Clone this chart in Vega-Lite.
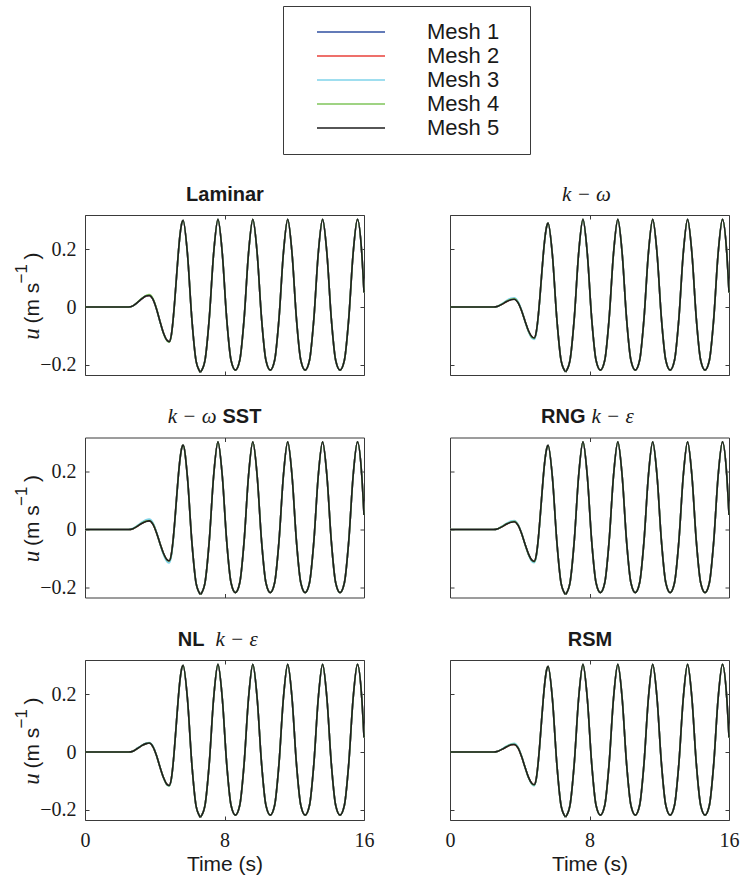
{
  "$schema": "https://vega.github.io/schema/vega-lite/v6.json",
  "padding": {"left": 12, "top": 5, "right": 5, "bottom": 5},
  "datasets": {
    "laminar": [
      {"t":0,"m1":0,"m2":0,"m3":0,"m4":0,"m5":0},
      {"t":2,"m1":0,"m2":0,"m3":0,"m4":0,"m5":0},
      {"t":2.5,"m1":0,"m2":0,"m3":0,"m4":0,"m5":0},
      {"t":2.75,"m1":0.004,"m2":0.004,"m3":0.004,"m4":0.004,"m5":0.004},
      {"t":3,"m1":0.015,"m2":0.015,"m3":0.015,"m4":0.016,"m5":0.015},
      {"t":3.25,"m1":0.028,"m2":0.028,"m3":0.029,"m4":0.030,"m5":0.028},
      {"t":3.5,"m1":0.038,"m2":0.038,"m3":0.039,"m4":0.040,"m5":0.038},
      {"t":3.68,"m1":0.040,"m2":0.040,"m3":0.041,"m4":0.043,"m5":0.040},
      {"t":3.9,"m1":0.026,"m2":0.026,"m3":0.027,"m4":0.029,"m5":0.026},
      {"t":4.1,"m1":-0.007,"m2":-0.007,"m3":-0.007,"m4":-0.005,"m5":-0.007},
      {"t":4.3,"m1":-0.050,"m2":-0.050,"m3":-0.051,"m4":-0.050,"m5":-0.050},
      {"t":4.5,"m1":-0.090,"m2":-0.090,"m3":-0.091,"m4":-0.091,"m5":-0.090},
      {"t":4.7,"m1":-0.115,"m2":-0.115,"m3":-0.116,"m4":-0.117,"m5":-0.115},
      {"t":4.83,"m1":-0.120,"m2":-0.120,"m3":-0.121,"m4":-0.122,"m5":-0.120},
      {"t":4.95,"m1":-0.097,"m2":-0.097,"m3":-0.098,"m4":-0.099,"m5":-0.097},
      {"t":5.05,"m1":-0.046,"m2":-0.046,"m3":-0.047,"m4":-0.047,"m5":-0.046},
      {"t":5.15,"m1":0.025,"m2":0.025,"m3":0.025,"m4":0.025,"m5":0.025},
      {"t":5.25,"m1":0.106,"m2":0.106,"m3":0.106,"m4":0.106,"m5":0.106},
      {"t":5.35,"m1":0.185,"m2":0.185,"m3":0.185,"m4":0.185,"m5":0.185},
      {"t":5.45,"m1":0.250,"m2":0.250,"m3":0.250,"m4":0.250,"m5":0.250},
      {"t":5.55,"m1":0.290,"m2":0.290,"m3":0.290,"m4":0.290,"m5":0.290},
      {"t":5.625,"m1":0.300,"m2":0.300,"m3":0.300,"m4":0.300,"m5":0.300},
      {"t":5.875,"m1":0.184,"m2":0.184,"m3":0.184,"m4":0.184,"m5":0.184},
      {"t":6.125,"m1":-0.040,"m2":-0.040,"m3":-0.040,"m4":-0.040,"m5":-0.040},
      {"t":6.375,"m1":-0.188,"m2":-0.188,"m3":-0.188,"m4":-0.188,"m5":-0.188},
      {"t":6.625,"m1":-0.226,"m2":-0.226,"m3":-0.226,"m4":-0.226,"m5":-0.226}
    ],
    "komega": [
      {"t":0,"m1":0,"m2":0,"m3":0,"m4":0,"m5":0},
      {"t":2,"m1":0,"m2":0,"m3":0,"m4":0,"m5":0},
      {"t":2.5,"m1":0,"m2":0,"m3":0,"m4":0,"m5":0},
      {"t":2.75,"m1":0.003,"m2":0.003,"m3":0.003,"m4":0.003,"m5":0.003},
      {"t":3,"m1":0.011,"m2":0.010,"m3":0.012,"m4":0.011,"m5":0.010},
      {"t":3.25,"m1":0.020,"m2":0.019,"m3":0.023,"m4":0.020,"m5":0.019},
      {"t":3.5,"m1":0.027,"m2":0.026,"m3":0.030,"m4":0.027,"m5":0.025},
      {"t":3.68,"m1":0.029,"m2":0.028,"m3":0.032,"m4":0.028,"m5":0.027},
      {"t":3.9,"m1":0.017,"m2":0.016,"m3":0.019,"m4":0.016,"m5":0.015},
      {"t":4.1,"m1":-0.011,"m2":-0.012,"m3":-0.010,"m4":-0.012,"m5":-0.012},
      {"t":4.3,"m1":-0.048,"m2":-0.048,"m3":-0.049,"m4":-0.048,"m5":-0.048},
      {"t":4.5,"m1":-0.083,"m2":-0.083,"m3":-0.085,"m4":-0.083,"m5":-0.082},
      {"t":4.7,"m1":-0.105,"m2":-0.104,"m3":-0.108,"m4":-0.105,"m5":-0.103},
      {"t":4.83,"m1":-0.109,"m2":-0.108,"m3":-0.112,"m4":-0.108,"m5":-0.107},
      {"t":4.95,"m1":-0.087,"m2":-0.086,"m3":-0.090,"m4":-0.086,"m5":-0.085},
      {"t":5.05,"m1":-0.039,"m2":-0.038,"m3":-0.041,"m4":-0.038,"m5":-0.037},
      {"t":5.15,"m1":0.029,"m2":0.029,"m3":0.027,"m4":0.029,"m5":0.030},
      {"t":5.25,"m1":0.106,"m2":0.106,"m3":0.105,"m4":0.106,"m5":0.107},
      {"t":5.35,"m1":0.181,"m2":0.181,"m3":0.180,"m4":0.181,"m5":0.182},
      {"t":5.45,"m1":0.242,"m2":0.242,"m3":0.242,"m4":0.242,"m5":0.242},
      {"t":5.55,"m1":0.280,"m2":0.280,"m3":0.280,"m4":0.280,"m5":0.280},
      {"t":5.625,"m1":0.290,"m2":0.290,"m3":0.290,"m4":0.290,"m5":0.290},
      {"t":5.875,"m1":0.178,"m2":0.178,"m3":0.178,"m4":0.178,"m5":0.178},
      {"t":6.125,"m1":-0.040,"m2":-0.040,"m3":-0.040,"m4":-0.040,"m5":-0.040},
      {"t":6.375,"m1":-0.186,"m2":-0.186,"m3":-0.186,"m4":-0.186,"m5":-0.186},
      {"t":6.625,"m1":-0.224,"m2":-0.224,"m3":-0.224,"m4":-0.224,"m5":-0.224}
    ],
    "sst": [
      {"t":0,"m1":0,"m2":0,"m3":0,"m4":0,"m5":0},
      {"t":2,"m1":0,"m2":0,"m3":0,"m4":0,"m5":0},
      {"t":2.5,"m1":0,"m2":0,"m3":0,"m4":0,"m5":0},
      {"t":2.75,"m1":0.003,"m2":0.003,"m3":0.004,"m4":0.003,"m5":0.003},
      {"t":3,"m1":0.012,"m2":0.011,"m3":0.014,"m4":0.012,"m5":0.011},
      {"t":3.25,"m1":0.022,"m2":0.021,"m3":0.025,"m4":0.022,"m5":0.021},
      {"t":3.5,"m1":0.030,"m2":0.029,"m3":0.034,"m4":0.029,"m5":0.028},
      {"t":3.68,"m1":0.032,"m2":0.031,"m3":0.036,"m4":0.031,"m5":0.030},
      {"t":3.9,"m1":0.020,"m2":0.019,"m3":0.023,"m4":0.019,"m5":0.018},
      {"t":4.1,"m1":-0.010,"m2":-0.011,"m3":-0.009,"m4":-0.011,"m5":-0.011},
      {"t":4.3,"m1":-0.048,"m2":-0.048,"m3":-0.049,"m4":-0.048,"m5":-0.048},
      {"t":4.5,"m1":-0.083,"m2":-0.083,"m3":-0.087,"m4":-0.083,"m5":-0.082},
      {"t":4.7,"m1":-0.106,"m2":-0.105,"m3":-0.111,"m4":-0.105,"m5":-0.104},
      {"t":4.83,"m1":-0.110,"m2":-0.109,"m3":-0.116,"m4":-0.109,"m5":-0.108},
      {"t":4.95,"m1":-0.088,"m2":-0.087,"m3":-0.094,"m4":-0.087,"m5":-0.086},
      {"t":5.05,"m1":-0.040,"m2":-0.039,"m3":-0.044,"m4":-0.039,"m5":-0.038},
      {"t":5.15,"m1":0.029,"m2":0.029,"m3":0.025,"m4":0.029,"m5":0.030},
      {"t":5.25,"m1":0.107,"m2":0.107,"m3":0.104,"m4":0.107,"m5":0.108},
      {"t":5.35,"m1":0.183,"m2":0.183,"m3":0.181,"m4":0.183,"m5":0.183},
      {"t":5.45,"m1":0.244,"m2":0.244,"m3":0.244,"m4":0.244,"m5":0.244},
      {"t":5.55,"m1":0.282,"m2":0.282,"m3":0.282,"m4":0.282,"m5":0.282},
      {"t":5.625,"m1":0.292,"m2":0.292,"m3":0.292,"m4":0.292,"m5":0.292},
      {"t":5.875,"m1":0.180,"m2":0.180,"m3":0.180,"m4":0.180,"m5":0.180},
      {"t":6.125,"m1":-0.040,"m2":-0.040,"m3":-0.040,"m4":-0.040,"m5":-0.040},
      {"t":6.375,"m1":-0.187,"m2":-0.187,"m3":-0.187,"m4":-0.187,"m5":-0.187},
      {"t":6.625,"m1":-0.225,"m2":-0.225,"m3":-0.225,"m4":-0.225,"m5":-0.225}
    ],
    "rng": [
      {"t":0,"m1":0,"m2":0,"m3":0,"m4":0,"m5":0},
      {"t":2,"m1":0,"m2":0,"m3":0,"m4":0,"m5":0},
      {"t":2.5,"m1":0,"m2":0,"m3":0,"m4":0,"m5":0},
      {"t":2.75,"m1":0.003,"m2":0.003,"m3":0.003,"m4":0.003,"m5":0.003},
      {"t":3,"m1":0.011,"m2":0.010,"m3":0.012,"m4":0.011,"m5":0.010},
      {"t":3.25,"m1":0.020,"m2":0.019,"m3":0.022,"m4":0.020,"m5":0.019},
      {"t":3.5,"m1":0.027,"m2":0.026,"m3":0.029,"m4":0.026,"m5":0.025},
      {"t":3.68,"m1":0.029,"m2":0.028,"m3":0.031,"m4":0.028,"m5":0.027},
      {"t":3.9,"m1":0.016,"m2":0.016,"m3":0.018,"m4":0.016,"m5":0.015},
      {"t":4.1,"m1":-0.012,"m2":-0.013,"m3":-0.012,"m4":-0.013,"m5":-0.013},
      {"t":4.3,"m1":-0.050,"m2":-0.050,"m3":-0.051,"m4":-0.050,"m5":-0.050},
      {"t":4.5,"m1":-0.085,"m2":-0.085,"m3":-0.087,"m4":-0.085,"m5":-0.084},
      {"t":4.7,"m1":-0.108,"m2":-0.107,"m3":-0.111,"m4":-0.107,"m5":-0.106},
      {"t":4.83,"m1":-0.112,"m2":-0.111,"m3":-0.115,"m4":-0.111,"m5":-0.110},
      {"t":4.95,"m1":-0.090,"m2":-0.089,"m3":-0.093,"m4":-0.089,"m5":-0.088},
      {"t":5.05,"m1":-0.042,"m2":-0.041,"m3":-0.044,"m4":-0.041,"m5":-0.040},
      {"t":5.15,"m1":0.028,"m2":0.028,"m3":0.025,"m4":0.028,"m5":0.029},
      {"t":5.25,"m1":0.106,"m2":0.106,"m3":0.104,"m4":0.106,"m5":0.106},
      {"t":5.35,"m1":0.182,"m2":0.182,"m3":0.180,"m4":0.182,"m5":0.182},
      {"t":5.45,"m1":0.243,"m2":0.243,"m3":0.243,"m4":0.243,"m5":0.243},
      {"t":5.55,"m1":0.281,"m2":0.281,"m3":0.281,"m4":0.281,"m5":0.281},
      {"t":5.625,"m1":0.291,"m2":0.291,"m3":0.291,"m4":0.291,"m5":0.291},
      {"t":5.875,"m1":0.179,"m2":0.179,"m3":0.179,"m4":0.179,"m5":0.179},
      {"t":6.125,"m1":-0.040,"m2":-0.040,"m3":-0.040,"m4":-0.040,"m5":-0.040},
      {"t":6.375,"m1":-0.187,"m2":-0.187,"m3":-0.187,"m4":-0.187,"m5":-0.187},
      {"t":6.625,"m1":-0.225,"m2":-0.225,"m3":-0.225,"m4":-0.225,"m5":-0.225}
    ],
    "nl": [
      {"t":0,"m1":0,"m2":0,"m3":0,"m4":0,"m5":0},
      {"t":2,"m1":0,"m2":0,"m3":0,"m4":0,"m5":0},
      {"t":2.5,"m1":0,"m2":0,"m3":0,"m4":0,"m5":0},
      {"t":2.75,"m1":0.003,"m2":0.003,"m3":0.003,"m4":0.003,"m5":0.003},
      {"t":3,"m1":0.012,"m2":0.012,"m3":0.013,"m4":0.012,"m5":0.012},
      {"t":3.25,"m1":0.022,"m2":0.022,"m3":0.023,"m4":0.022,"m5":0.022},
      {"t":3.5,"m1":0.029,"m2":0.029,"m3":0.031,"m4":0.029,"m5":0.029},
      {"t":3.68,"m1":0.031,"m2":0.031,"m3":0.033,"m4":0.031,"m5":0.031},
      {"t":3.9,"m1":0.018,"m2":0.018,"m3":0.020,"m4":0.018,"m5":0.018},
      {"t":4.1,"m1":-0.012,"m2":-0.012,"m3":-0.012,"m4":-0.012,"m5":-0.012},
      {"t":4.3,"m1":-0.052,"m2":-0.052,"m3":-0.052,"m4":-0.052,"m5":-0.052},
      {"t":4.5,"m1":-0.088,"m2":-0.088,"m3":-0.089,"m4":-0.088,"m5":-0.088},
      {"t":4.7,"m1":-0.112,"m2":-0.112,"m3":-0.114,"m4":-0.113,"m5":-0.112},
      {"t":4.83,"m1":-0.116,"m2":-0.116,"m3":-0.118,"m4":-0.117,"m5":-0.116},
      {"t":4.95,"m1":-0.093,"m2":-0.093,"m3":-0.095,"m4":-0.094,"m5":-0.093},
      {"t":5.05,"m1":-0.043,"m2":-0.043,"m3":-0.044,"m4":-0.043,"m5":-0.043},
      {"t":5.15,"m1":0.028,"m2":0.028,"m3":0.028,"m4":0.028,"m5":0.028},
      {"t":5.25,"m1":0.108,"m2":0.108,"m3":0.108,"m4":0.108,"m5":0.108},
      {"t":5.35,"m1":0.186,"m2":0.186,"m3":0.186,"m4":0.186,"m5":0.186},
      {"t":5.45,"m1":0.250,"m2":0.250,"m3":0.250,"m4":0.250,"m5":0.250},
      {"t":5.55,"m1":0.290,"m2":0.290,"m3":0.290,"m4":0.290,"m5":0.290},
      {"t":5.625,"m1":0.300,"m2":0.300,"m3":0.300,"m4":0.300,"m5":0.300},
      {"t":5.875,"m1":0.184,"m2":0.184,"m3":0.184,"m4":0.184,"m5":0.184},
      {"t":6.125,"m1":-0.040,"m2":-0.040,"m3":-0.040,"m4":-0.040,"m5":-0.040},
      {"t":6.375,"m1":-0.188,"m2":-0.188,"m3":-0.188,"m4":-0.188,"m5":-0.188},
      {"t":6.625,"m1":-0.226,"m2":-0.226,"m3":-0.226,"m4":-0.226,"m5":-0.226}
    ],
    "rsm": [
      {"t":0,"m1":0,"m2":0,"m3":0,"m4":0,"m5":0},
      {"t":2,"m1":0,"m2":0,"m3":0,"m4":0,"m5":0},
      {"t":2.5,"m1":0,"m2":0,"m3":0,"m4":0,"m5":0},
      {"t":2.75,"m1":0.003,"m2":0.003,"m3":0.003,"m4":0.003,"m5":0.003},
      {"t":3,"m1":0.010,"m2":0.010,"m3":0.011,"m4":0.010,"m5":0.010},
      {"t":3.25,"m1":0.019,"m2":0.018,"m3":0.021,"m4":0.019,"m5":0.018},
      {"t":3.5,"m1":0.026,"m2":0.025,"m3":0.028,"m4":0.026,"m5":0.025},
      {"t":3.68,"m1":0.027,"m2":0.026,"m3":0.030,"m4":0.027,"m5":0.026},
      {"t":3.9,"m1":0.015,"m2":0.014,"m3":0.018,"m4":0.015,"m5":0.014},
      {"t":4.1,"m1":-0.014,"m2":-0.015,"m3":-0.013,"m4":-0.014,"m5":-0.015},
      {"t":4.3,"m1":-0.052,"m2":-0.052,"m3":-0.052,"m4":-0.052,"m5":-0.052},
      {"t":4.5,"m1":-0.088,"m2":-0.087,"m3":-0.089,"m4":-0.088,"m5":-0.087},
      {"t":4.7,"m1":-0.110,"m2":-0.109,"m3":-0.112,"m4":-0.110,"m5":-0.109},
      {"t":4.83,"m1":-0.114,"m2":-0.113,"m3":-0.117,"m4":-0.114,"m5":-0.113},
      {"t":4.95,"m1":-0.092,"m2":-0.091,"m3":-0.094,"m4":-0.092,"m5":-0.091},
      {"t":5.05,"m1":-0.042,"m2":-0.041,"m3":-0.044,"m4":-0.042,"m5":-0.041},
      {"t":5.15,"m1":0.028,"m2":0.028,"m3":0.026,"m4":0.028,"m5":0.028},
      {"t":5.25,"m1":0.108,"m2":0.108,"m3":0.108,"m4":0.108,"m5":0.108},
      {"t":5.35,"m1":0.184,"m2":0.184,"m3":0.184,"m4":0.184,"m5":0.184},
      {"t":5.45,"m1":0.247,"m2":0.247,"m3":0.247,"m4":0.247,"m5":0.247},
      {"t":5.55,"m1":0.286,"m2":0.286,"m3":0.286,"m4":0.286,"m5":0.286},
      {"t":5.625,"m1":0.296,"m2":0.296,"m3":0.296,"m4":0.296,"m5":0.296},
      {"t":5.875,"m1":0.182,"m2":0.182,"m3":0.182,"m4":0.182,"m5":0.182},
      {"t":6.125,"m1":-0.040,"m2":-0.040,"m3":-0.040,"m4":-0.040,"m5":-0.040},
      {"t":6.375,"m1":-0.187,"m2":-0.187,"m3":-0.187,"m4":-0.187,"m5":-0.187},
      {"t":6.625,"m1":-0.225,"m2":-0.225,"m3":-0.225,"m4":-0.225,"m5":-0.225}
    ],
    "wave": [
      {"t":6.625,"m1":-0.225,"m2":-0.225,"m3":-0.225,"m4":-0.225,"m5":-0.225},
      {"t":6.875,"m1":-0.186,"m2":-0.186,"m3":-0.186,"m4":-0.186,"m5":-0.186},
      {"t":7.125,"m1":-0.040,"m2":-0.040,"m3":-0.040,"m4":-0.040,"m5":-0.040},
      {"t":7.375,"m1":0.184,"m2":0.184,"m3":0.184,"m4":0.184,"m5":0.184},
      {"t":7.625,"m1":0.303,"m2":0.303,"m3":0.303,"m4":0.303,"m5":0.303},
      {"t":7.875,"m1":0.184,"m2":0.184,"m3":0.184,"m4":0.184,"m5":0.184},
      {"t":8.125,"m1":-0.040,"m2":-0.040,"m3":-0.040,"m4":-0.040,"m5":-0.040},
      {"t":8.375,"m1":-0.184,"m2":-0.184,"m3":-0.184,"m4":-0.184,"m5":-0.184},
      {"t":8.625,"m1":-0.218,"m2":-0.218,"m3":-0.218,"m4":-0.218,"m5":-0.218},
      {"t":8.875,"m1":-0.184,"m2":-0.184,"m3":-0.184,"m4":-0.184,"m5":-0.184},
      {"t":9.125,"m1":-0.040,"m2":-0.040,"m3":-0.040,"m4":-0.040,"m5":-0.040},
      {"t":9.375,"m1":0.184,"m2":0.184,"m3":0.184,"m4":0.184,"m5":0.184},
      {"t":9.625,"m1":0.303,"m2":0.303,"m3":0.303,"m4":0.303,"m5":0.303},
      {"t":9.875,"m1":0.184,"m2":0.184,"m3":0.184,"m4":0.184,"m5":0.184},
      {"t":10.125,"m1":-0.040,"m2":-0.040,"m3":-0.040,"m4":-0.040,"m5":-0.040},
      {"t":10.375,"m1":-0.184,"m2":-0.184,"m3":-0.184,"m4":-0.184,"m5":-0.184},
      {"t":10.625,"m1":-0.218,"m2":-0.218,"m3":-0.218,"m4":-0.218,"m5":-0.218},
      {"t":10.875,"m1":-0.184,"m2":-0.184,"m3":-0.184,"m4":-0.184,"m5":-0.184},
      {"t":11.125,"m1":-0.040,"m2":-0.040,"m3":-0.040,"m4":-0.040,"m5":-0.040},
      {"t":11.375,"m1":0.184,"m2":0.184,"m3":0.184,"m4":0.184,"m5":0.184},
      {"t":11.625,"m1":0.303,"m2":0.303,"m3":0.303,"m4":0.303,"m5":0.303},
      {"t":11.875,"m1":0.184,"m2":0.184,"m3":0.184,"m4":0.184,"m5":0.184},
      {"t":12.125,"m1":-0.040,"m2":-0.040,"m3":-0.040,"m4":-0.040,"m5":-0.040},
      {"t":12.375,"m1":-0.184,"m2":-0.184,"m3":-0.184,"m4":-0.184,"m5":-0.184},
      {"t":12.625,"m1":-0.218,"m2":-0.218,"m3":-0.218,"m4":-0.218,"m5":-0.218},
      {"t":12.875,"m1":-0.184,"m2":-0.184,"m3":-0.184,"m4":-0.184,"m5":-0.184},
      {"t":13.125,"m1":-0.040,"m2":-0.040,"m3":-0.040,"m4":-0.040,"m5":-0.040},
      {"t":13.375,"m1":0.184,"m2":0.184,"m3":0.184,"m4":0.184,"m5":0.184},
      {"t":13.625,"m1":0.303,"m2":0.303,"m3":0.303,"m4":0.303,"m5":0.303},
      {"t":13.875,"m1":0.184,"m2":0.184,"m3":0.184,"m4":0.184,"m5":0.184},
      {"t":14.125,"m1":-0.040,"m2":-0.040,"m3":-0.040,"m4":-0.040,"m5":-0.040},
      {"t":14.375,"m1":-0.184,"m2":-0.184,"m3":-0.184,"m4":-0.184,"m5":-0.184},
      {"t":14.625,"m1":-0.218,"m2":-0.218,"m3":-0.218,"m4":-0.218,"m5":-0.218},
      {"t":14.875,"m1":-0.184,"m2":-0.184,"m3":-0.184,"m4":-0.184,"m5":-0.184},
      {"t":15.125,"m1":-0.040,"m2":-0.040,"m3":-0.040,"m4":-0.040,"m5":-0.040},
      {"t":15.375,"m1":0.184,"m2":0.184,"m3":0.184,"m4":0.184,"m5":0.184},
      {"t":15.625,"m1":0.303,"m2":0.303,"m3":0.303,"m4":0.303,"m5":0.303},
      {"t":15.875,"m1":0.184,"m2":0.184,"m3":0.184,"m4":0.184,"m5":0.184},
      {"t":16,"m1":0.050,"m2":0.050,"m3":0.050,"m4":0.050,"m5":0.050}
    ]
  },
  "concat": [
    {
      "width": 279, "height": 160,
      "layer": [
        {
          "data": {"name": "laminar"},
          "transform": [{"fold": ["m1","m2","m3","m4","m5"], "as": ["mesh","u"]}],
          "mark": "line",
          "encoding": {
            "x": {"field": "t", "type": "quantitative", "scale": {"domain": [0,16], "nice": false}, "axis": {"orient": "bottom", "values": [0,8,16], "labels": false, "title": null}},
            "y": {"field": "u", "type": "quantitative", "scale": {"domain": [-0.235,0.318], "nice": false, "zero": false}, "axis": {"orient": "left", "values": [-0.2,0,0.2], "format": ".1~f", "title": "(m s", "titleX": -46.5, "titleY": 108, "titleAlign": "left", "titleAngle": 270}},
            "color": {"field": "mesh", "type": "nominal", "legend": {"title": null, "orient": "none", "legendX": 198, "legendY": -209, "symbolType": "stroke", "symbolSize": 4624, "symbolStrokeWidth": 1.5, "symbolOffset": 19, "clipHeight": 24, "rowPadding": 0, "padding": 14, "strokeColor": "#3a3a3a", "fillColor": "white", "labelFont": "Liberation Sans", "labelFontSize": 22, "labelColor": "#1a1a1a", "labelOffset": 41, "labelLimit": 0, "labelExpr": "'Mesh ' + substring(datum.label, 1) + '\u2800'"}}
          }
        },
        {
          "data": {"name": "wave"},
          "transform": [{"fold": ["m1","m2","m3","m4","m5"], "as": ["mesh","u"]}],
          "mark": "line",
          "encoding": {
            "x": {"field": "t", "type": "quantitative", "axis": {"orient": "top", "values": [0,8,16], "labels": false, "title": "Laminar", "titleFontWeight": "bold", "titleFontSize": 20, "titleX": 139.5, "titleY": -15, "titleAlign": "center"}},
            "y": {"field": "u", "type": "quantitative", "axis": {"orient": "right", "values": [-0.2,0,0.2], "labels": false, "title": "−1", "titleFontSize": 17, "titleX": -337.5, "titleY": 68, "titleAlign": "left", "titleAngle": 270}},
            "color": {"field": "mesh", "type": "nominal"}
          }
        },
        {
          "data": {"name": "wave"},
          "mark": {"type": "line", "opacity": 0},
          "encoding": {
            "x": {"field": "t", "type": "quantitative", "axis": null},
            "y": {"field": "m5", "type": "quantitative", "axis": {"orient": "left", "ticks": false, "labels": false, "title": "u", "titleFont": "Liberation Serif", "titleFontStyle": "italic", "titleFontSize": 23, "titleX": -46.5, "titleY": 118.5, "titleAlign": "center", "titleAngle": 270}}
          }
        },
        {
          "data": {"name": "wave"},
          "mark": {"type": "line", "opacity": 0},
          "encoding": {
            "x": {"field": "t", "type": "quantitative", "axis": null},
            "y": {"field": "m5", "type": "quantitative", "axis": {"orient": "left", "ticks": false, "labels": false, "title": ")", "titleX": -46.5, "titleY": 44, "titleAlign": "left", "titleAngle": 270}}
          }
        }
      ],
      "resolve": {"axis": {"x": "independent", "y": "independent"}}
    },
    {
      "width": 279, "height": 160,
      "layer": [
        {
          "data": {"name": "komega"},
          "transform": [{"fold": ["m1","m2","m3","m4","m5"], "as": ["mesh","u"]}],
          "mark": "line",
          "encoding": {
            "x": {"field": "t", "type": "quantitative", "scale": {"domain": [0,16], "nice": false}, "axis": {"orient": "bottom", "values": [0,8,16], "labels": false, "title": null}},
            "y": {"field": "u", "type": "quantitative", "scale": {"domain": [-0.235,0.318], "nice": false, "zero": false}, "axis": {"orient": "left", "values": [-0.2,0,0.2], "labels": false, "title": null}},
            "color": {"field": "mesh", "type": "nominal"}
          }
        },
        {
          "data": {"name": "wave"},
          "transform": [{"fold": ["m1","m2","m3","m4","m5"], "as": ["mesh","u"]}],
          "mark": "line",
          "encoding": {
            "x": {"field": "t", "type": "quantitative", "axis": {"orient": "top", "values": [0,8,16], "labels": false, "title": "k − ω", "titleFont": "Liberation Serif", "titleFontStyle": "italic", "titleFontSize": 21, "titleX": 136, "titleY": -15, "titleAlign": "center"}},
            "y": {"field": "u", "type": "quantitative", "axis": {"orient": "right", "values": [-0.2,0,0.2], "labels": false, "title": null}},
            "color": {"field": "mesh", "type": "nominal"}
          }
        }
      ],
      "resolve": {"axis": {"x": "independent", "y": "independent"}}
    },
    {
      "width": 279, "height": 160,
      "layer": [
        {
          "data": {"name": "sst"},
          "transform": [{"fold": ["m1","m2","m3","m4","m5"], "as": ["mesh","u"]}],
          "mark": "line",
          "encoding": {
            "x": {"field": "t", "type": "quantitative", "scale": {"domain": [0,16], "nice": false}, "axis": {"orient": "bottom", "values": [0,8,16], "labels": false, "title": null}},
            "y": {"field": "u", "type": "quantitative", "scale": {"domain": [-0.235,0.318], "nice": false, "zero": false}, "axis": {"orient": "left", "values": [-0.2,0,0.2], "format": ".1~f", "title": "(m s", "titleX": -46.5, "titleY": 108, "titleAlign": "left", "titleAngle": 270}},
            "color": {"field": "mesh", "type": "nominal"}
          }
        },
        {
          "data": {"name": "wave"},
          "transform": [{"fold": ["m1","m2","m3","m4","m5"], "as": ["mesh","u"]}],
          "mark": "line",
          "encoding": {
            "x": {"field": "t", "type": "quantitative", "axis": {"orient": "top", "values": [0,8,16], "labels": false, "title": "k − ω", "titleFont": "Liberation Serif", "titleFontStyle": "italic", "titleFontSize": 21, "titleX": 131, "titleY": -15, "titleAlign": "right"}},
            "y": {"field": "u", "type": "quantitative", "axis": {"orient": "right", "values": [-0.2,0,0.2], "labels": false, "title": "−1", "titleFontSize": 17, "titleX": -337.5, "titleY": 68, "titleAlign": "left", "titleAngle": 270}},
            "color": {"field": "mesh", "type": "nominal"}
          }
        },
        {
          "data": {"name": "wave"},
          "mark": {"type": "line", "opacity": 0},
          "encoding": {
            "x": {"field": "t", "type": "quantitative", "axis": {"orient": "top", "ticks": false, "labels": false, "title": "SST", "titleFontWeight": "bold", "titleFontSize": 20, "titleX": 137, "titleY": -15, "titleAlign": "left"}},
            "y": {"field": "m5", "type": "quantitative", "axis": {"orient": "left", "ticks": false, "labels": false, "title": "u", "titleFont": "Liberation Serif", "titleFontStyle": "italic", "titleFontSize": 23, "titleX": -46.5, "titleY": 118.5, "titleAlign": "center", "titleAngle": 270}}
          }
        },
        {
          "data": {"name": "wave"},
          "mark": {"type": "line", "opacity": 0},
          "encoding": {
            "x": {"field": "t", "type": "quantitative", "axis": null},
            "y": {"field": "m5", "type": "quantitative", "axis": {"orient": "left", "ticks": false, "labels": false, "title": ")", "titleX": -46.5, "titleY": 44, "titleAlign": "left", "titleAngle": 270}}
          }
        }
      ],
      "resolve": {"axis": {"x": "independent", "y": "independent"}}
    },
    {
      "width": 279, "height": 160,
      "layer": [
        {
          "data": {"name": "rng"},
          "transform": [{"fold": ["m1","m2","m3","m4","m5"], "as": ["mesh","u"]}],
          "mark": "line",
          "encoding": {
            "x": {"field": "t", "type": "quantitative", "scale": {"domain": [0,16], "nice": false}, "axis": {"orient": "bottom", "values": [0,8,16], "labels": false, "title": null}},
            "y": {"field": "u", "type": "quantitative", "scale": {"domain": [-0.235,0.318], "nice": false, "zero": false}, "axis": {"orient": "left", "values": [-0.2,0,0.2], "labels": false, "title": null}},
            "color": {"field": "mesh", "type": "nominal"}
          }
        },
        {
          "data": {"name": "wave"},
          "transform": [{"fold": ["m1","m2","m3","m4","m5"], "as": ["mesh","u"]}],
          "mark": "line",
          "encoding": {
            "x": {"field": "t", "type": "quantitative", "axis": {"orient": "top", "values": [0,8,16], "labels": false, "title": "RNG", "titleFontWeight": "bold", "titleFontSize": 20, "titleX": 135, "titleY": -15, "titleAlign": "right"}},
            "y": {"field": "u", "type": "quantitative", "axis": {"orient": "right", "values": [-0.2,0,0.2], "labels": false, "title": null}},
            "color": {"field": "mesh", "type": "nominal"}
          }
        },
        {
          "data": {"name": "wave"},
          "mark": {"type": "line", "opacity": 0},
          "encoding": {
            "x": {"field": "t", "type": "quantitative", "axis": {"orient": "top", "ticks": false, "labels": false, "title": "k − ε", "titleFont": "Liberation Serif", "titleFontStyle": "italic", "titleFontSize": 21, "titleX": 141, "titleY": -15, "titleAlign": "left"}},
            "y": {"field": "m5", "type": "quantitative", "axis": null}
          }
        }
      ],
      "resolve": {"axis": {"x": "independent", "y": "independent"}}
    },
    {
      "width": 279, "height": 160,
      "layer": [
        {
          "data": {"name": "nl"},
          "transform": [{"fold": ["m1","m2","m3","m4","m5"], "as": ["mesh","u"]}],
          "mark": "line",
          "encoding": {
            "x": {"field": "t", "type": "quantitative", "scale": {"domain": [0,16], "nice": false}, "axis": {"orient": "bottom", "values": [0,8,16], "labels": true, "title": "Time (s)", "titleY": 50}},
            "y": {"field": "u", "type": "quantitative", "scale": {"domain": [-0.235,0.318], "nice": false, "zero": false}, "axis": {"orient": "left", "values": [-0.2,0,0.2], "format": ".1~f", "title": "(m s", "titleX": -46.5, "titleY": 108, "titleAlign": "left", "titleAngle": 270}},
            "color": {"field": "mesh", "type": "nominal"}
          }
        },
        {
          "data": {"name": "wave"},
          "transform": [{"fold": ["m1","m2","m3","m4","m5"], "as": ["mesh","u"]}],
          "mark": "line",
          "encoding": {
            "x": {"field": "t", "type": "quantitative", "axis": {"orient": "top", "values": [0,8,16], "labels": false, "title": "NL", "titleFontWeight": "bold", "titleFontSize": 20, "titleX": 119, "titleY": -15, "titleAlign": "right"}},
            "y": {"field": "u", "type": "quantitative", "axis": {"orient": "right", "values": [-0.2,0,0.2], "labels": false, "title": "−1", "titleFontSize": 17, "titleX": -337.5, "titleY": 68, "titleAlign": "left", "titleAngle": 270}},
            "color": {"field": "mesh", "type": "nominal"}
          }
        },
        {
          "data": {"name": "wave"},
          "mark": {"type": "line", "opacity": 0},
          "encoding": {
            "x": {"field": "t", "type": "quantitative", "axis": {"orient": "top", "ticks": false, "labels": false, "title": "k − ε", "titleFont": "Liberation Serif", "titleFontStyle": "italic", "titleFontSize": 21, "titleX": 130, "titleY": -15, "titleAlign": "left"}},
            "y": {"field": "m5", "type": "quantitative", "axis": {"orient": "left", "ticks": false, "labels": false, "title": "u", "titleFont": "Liberation Serif", "titleFontStyle": "italic", "titleFontSize": 23, "titleX": -46.5, "titleY": 118.5, "titleAlign": "center", "titleAngle": 270}}
          }
        },
        {
          "data": {"name": "wave"},
          "mark": {"type": "line", "opacity": 0},
          "encoding": {
            "x": {"field": "t", "type": "quantitative", "axis": null},
            "y": {"field": "m5", "type": "quantitative", "axis": {"orient": "left", "ticks": false, "labels": false, "title": ")", "titleX": -46.5, "titleY": 44, "titleAlign": "left", "titleAngle": 270}}
          }
        }
      ],
      "resolve": {"axis": {"x": "independent", "y": "independent"}}
    },
    {
      "width": 279, "height": 160,
      "layer": [
        {
          "data": {"name": "rsm"},
          "transform": [{"fold": ["m1","m2","m3","m4","m5"], "as": ["mesh","u"]}],
          "mark": "line",
          "encoding": {
            "x": {"field": "t", "type": "quantitative", "scale": {"domain": [0,16], "nice": false}, "axis": {"orient": "bottom", "values": [0,8,16], "labels": true, "title": "Time (s)", "titleY": 50}},
            "y": {"field": "u", "type": "quantitative", "scale": {"domain": [-0.235,0.318], "nice": false, "zero": false}, "axis": {"orient": "left", "values": [-0.2,0,0.2], "labels": false, "title": null}},
            "color": {"field": "mesh", "type": "nominal"}
          }
        },
        {
          "data": {"name": "wave"},
          "transform": [{"fold": ["m1","m2","m3","m4","m5"], "as": ["mesh","u"]}],
          "mark": "line",
          "encoding": {
            "x": {"field": "t", "type": "quantitative", "axis": {"orient": "top", "values": [0,8,16], "labels": false, "title": "RSM", "titleFontWeight": "bold", "titleFontSize": 20, "titleX": 139.5, "titleY": -15, "titleAlign": "center"}},
            "y": {"field": "u", "type": "quantitative", "axis": {"orient": "right", "values": [-0.2,0,0.2], "labels": false, "title": null}},
            "color": {"field": "mesh", "type": "nominal"}
          }
        }
      ],
      "resolve": {"axis": {"x": "independent", "y": "independent"}}
    }
  ],
  "columns": 2,
  "spacing": {"row": 62.5, "column": 86},
  "bounds": "flush",
  "resolve": {"scale": {"color": "shared"}, "legend": {"color": "shared"}},
  "config": {
    "view": {"stroke": "#3a3a3a", "strokeWidth": 1},
    "line": {"interpolate": "monotone", "strokeWidth": 1.6},
    "range": {"category": ["#2f4fa0", "#e8403a", "#7fd3ea", "#7fc55a", "#1e1e1e"]},
    "axis": {
      "grid": false, "domain": false,
      "tickColor": "#3a3a3a", "tickWidth": 1, "tickSize": -4,
      "labelFont": "Liberation Serif", "labelFontSize": 20, "labelColor": "#1a1a1a",
      "labelFlush": false, "labelOverlap": false,
      "titleFont": "Liberation Sans", "titleFontSize": 21, "titleFontWeight": "normal",
      "titleColor": "#1a1a1a", "titleBaseline": "alphabetic"
    },
    "axisX": {"labelPadding": 14.5},
    "axisY": {"labelPadding": 13}
  }
}
